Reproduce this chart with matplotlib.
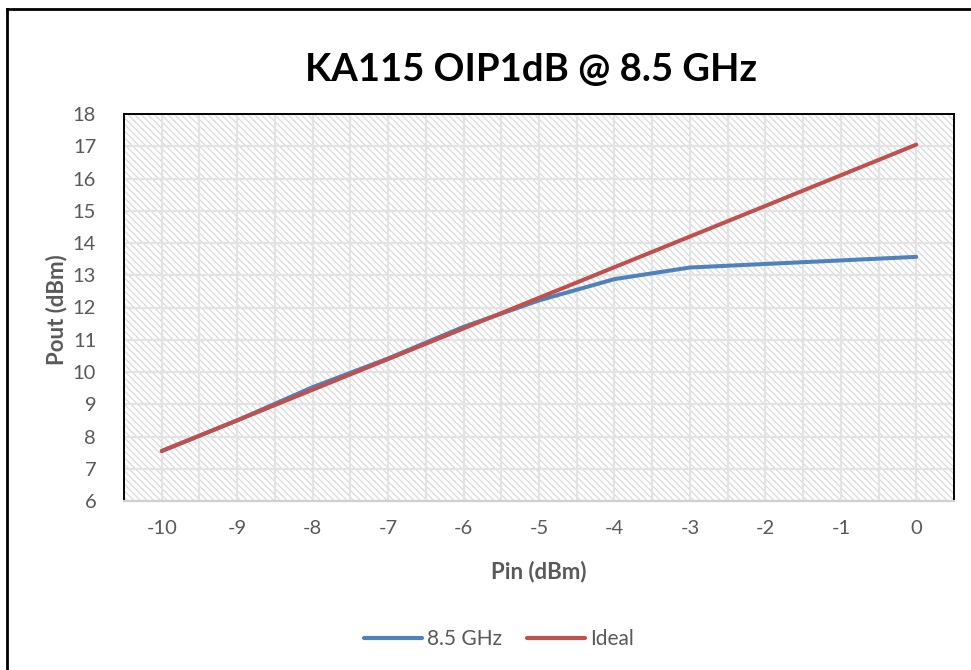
import matplotlib.pyplot as plt
from matplotlib.patches import Rectangle
from matplotlib.lines import Line2D
import numpy as np

# data
pin = [-10, -9, -8, -7, -6, -5, -4, -3, -2, -1, 0]
pout_85 = [7.55, 8.50, 9.53, 10.42, 11.40, 12.22, 12.88, 13.24, 13.35, 13.46, 13.57]
pout_ideal = [7.55, 8.50, 9.45, 10.40, 11.35, 12.30, 13.25, 14.20, 15.15, 16.10, 17.05]
y_ticks = list(range(6, 19))

blue = '#4f81bd'
red = '#c0504d'
tick_col = '#595959'
font = ['Lato', 'DejaVu Sans']

plt.rcParams['font.family'] = font
plt.rcParams['axes.unicode_minus'] = False
plt.rcParams['hatch.linewidth'] = 0.9

fig = plt.figure(figsize=(9.71, 6.70), dpi=100)
ax = fig.add_axes([124 / 971, 1 - 501 / 670, 830 / 971, 387 / 670])

# patterned plot area
ax.add_patch(Rectangle((0, 0), 1, 1, transform=ax.transAxes, facecolor='white',
                       edgecolor='#dadada', hatch='\\\\\\\\\\', linewidth=0, zorder=0))

ax.plot(pin, pout_85, color=blue, lw=2.9, solid_capstyle='round', zorder=3, label='8.5 GHz')
ax.plot(pin, pout_ideal, color=red, lw=2.9, solid_capstyle='round', zorder=4, label='Ideal')

ax.set_xlim(-10.5, 0.5)
ax.set_ylim(6, 18)
ax.set_xticks(pin)
ax.set_yticks(y_ticks)
ax.tick_params(axis='both', which='both', length=0, labelsize=14.5, colors=tick_col)
ax.tick_params(axis='x', pad=14)
ax.tick_params(axis='y', pad=20)

for v in np.arange(-10.5, 0.6, 0.5):
    ax.axvline(v, color='#e3e3e3', lw=1.6, zorder=1)
for v in y_ticks:
    ax.axhline(v, color='#e3e3e3', lw=1.6, zorder=1)

for s in ['left', 'top', 'right']:
    ax.spines[s].set_color('black')
    ax.spines[s].set_linewidth(1.4)
ax.spines['bottom'].set_color('#d0d0d0')
ax.spines['bottom'].set_linewidth(1.6)
for s in ax.spines.values():
    s.set_zorder(5)

fig.text(531 / 971, 1 - 70 / 670, 'KA115 OIP1dB @ 8.5 GHz', ha='center', va='center',
         fontsize=27.5, fontweight='bold', color='black')
fig.text(57 / 971, 1 - 310 / 670, 'Pout (dBm)', ha='center', va='center', rotation=90,
         fontsize=16, fontweight='bold', color=tick_col)
fig.text(539 / 971, 1 - 572 / 670, 'Pin (dBm)', ha='center', va='center',
         fontsize=16, fontweight='bold', color=tick_col)

handles = [Line2D([], [], color=blue, lw=3, solid_capstyle='round'),
           Line2D([], [], color=red, lw=3, solid_capstyle='round')]
leg = fig.legend(handles, ['8.5 GHz', 'Ideal'], loc='center', bbox_to_anchor=(499 / 971, 1 - 639 / 670),
                 ncol=2, frameon=False, fontsize=15, handlelength=2.8, handletextpad=0.25,
                 columnspacing=1.2, labelcolor=tick_col)

# outer chart border (left and top visible)
fig.add_artist(Line2D([7 / 971, 7 / 971], [0, 1 - 9 / 670], color='black', lw=2, transform=fig.transFigure))
fig.add_artist(Line2D([7 / 971, 1], [1 - 9 / 670, 1 - 9 / 670], color='black', lw=2, transform=fig.transFigure))

fig.savefig('out.png', dpi=100, facecolor='white')
